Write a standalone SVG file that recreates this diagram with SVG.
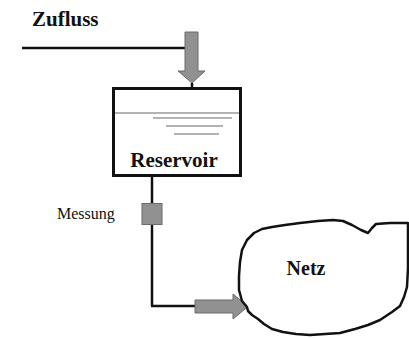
<svg xmlns="http://www.w3.org/2000/svg" width="409" height="338" viewBox="0 0 409 338">
<style>
.lbl{font-family:"Liberation Serif","Times New Roman",serif;fill:#111;}
.b{font-weight:bold;}
.line{stroke:#111;stroke-width:2.5;fill:none;}
.flow{fill:#919191;stroke:#6a6a6a;stroke-width:1;}
.water{stroke:#9a9a9a;stroke-width:1.5;}
</style>
<rect width="409" height="338" fill="#fff"/>
<g id="zufluss">
<text class="lbl b" x="32" y="26" font-size="21">Zufluss</text>
</g>
<g id="connectors">
<line class="line" x1="22" y1="48" x2="186" y2="48"/>
<path class="flow" d="M185,32 H198 V71 H205 L192,83 L178,71 H185 Z"/>
<line class="line" x1="192" y1="83" x2="192" y2="88" stroke-width="2"/>
<line class="line" x1="152" y1="176" x2="152" y2="306"/>
<line class="line" x1="151" y1="306" x2="196" y2="306"/>
<path class="flow" d="M195,300 H233 V294 L248,306.5 L233,319 V313 H195 Z"/>
</g>
<g id="reservoir">
<rect x="113.5" y="88.5" width="127" height="87" fill="#fff" stroke="#111" stroke-width="3"/>
<line class="water" x1="115" y1="113" x2="239" y2="113"/>
<line class="water" x1="153" y1="118" x2="232" y2="118"/>
<line class="water" x1="166" y1="126" x2="223" y2="126"/>
<line class="water" x1="174" y1="134" x2="219" y2="134"/>
<text class="lbl b" x="174" y="167" font-size="21" text-anchor="middle">Reservoir</text>
</g>
<g id="messung">
<rect class="flow" x="142" y="203.5" width="20" height="21"/>
<text class="lbl" x="57" y="219" font-size="16">Messung</text>
</g>
<g id="netz">
<path d="M247,307 L242,301 L239,290 L239,276 L240,262 L242,250 L247,240 L254,233 L262,229 L272,227 L285,225 L300,223 L318,221 L333,220 L343,221 L352,225 L361,230 L368,233 L372,228 L376,224 L390,223 L408,223 L408,245 L408,268 L407,287 L404,297 L400,306 L392,312 L380,320 L368,325 L355,329 L340,333 L325,334 L310,335 L296,334 L283,332 L272,329 L264,324 L258,319 L252,315 L248,311 Z" fill="#fff" stroke="#111" stroke-width="2.5" stroke-linejoin="round"/>
<text class="lbl b" x="306" y="275" font-size="20" text-anchor="middle">Netz</text>
</g>
</svg>
